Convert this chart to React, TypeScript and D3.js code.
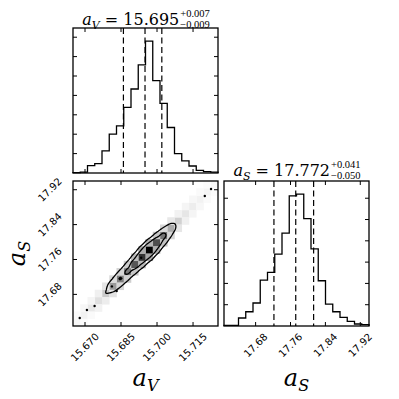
import React, { useEffect, useRef } from "react";
import * as d3 from "d3";

// parameter ranges and ticks
const xRange = [15.665, 15.7254];
const yRange = [17.6075, 17.94];
const xTicks = [15.67, 15.685, 15.7, 15.715];
const yTicks = [17.68, 17.76, 17.84, 17.92];
const xTickLabels = ["15.670", "15.685", "15.700", "15.715"];
const yTickLabels = ["17.68", "17.76", "17.84", "17.92"];
const countTicks = [200, 400, 600, 800, 1000, 1200, 1400];

// marginal histograms (20 bins each)
const xCounts = [3, 10, 76, 97, 228, 400, 486, 676, 866, 1114, 1359, 952, 718, 469, 200, 124, 72, 28, 14, 10];
const yCounts = [6, 6, 75, 134, 216, 431, 503, 675, 872, 1222, 1238, 1009, 725, 425, 206, 134, 81, 44, 19, 13];

// 16/50/84 quantiles
const xQuant = [15.686, 15.695, 15.702];
const yQuant = [17.722, 17.772, 17.813];

// 2d histogram: diagonal cells (i,i), upper (i,i+1), lower (i+1,i)
const diagCells = [3, 5, 9, 12, 21, 40, 50, 52, 66, 80, 100, 70, 55, 33, 18, 10, 7, 5, 4, 3];
const upperCells = [2, 3, 4, 6, 10, 14, 17, 20, 26, 32, 30, 22, 15, 9, 5, 4, 3, 2, 1];
const lowerCells = [1, 2, 5, 7, 11, 16, 19, 22, 28, 34, 32, 24, 16, 10, 6, 4, 3, 2, 1];

// samples outside the contours
const samples = [
  [15.7199, 17.9056], [15.7225, 17.9217], [15.674, 17.6534], [15.6708, 17.6442],
  [15.6678, 17.6258], [15.6832, 17.6878], [15.6812, 17.6983], [15.6845, 17.7168],
  [15.6934, 17.7641],
];

// contour levels as fraction of the smoothed peak
const contourLevels = [0.23, 0.5];

const titles = [
  { name: "V", value: "15.695", plus: "+0.007", minus: "\u22120.009" },
  { name: "S", value: "17.772", plus: "+0.041", minus: "\u22120.050" },
];

const P = 145;
const X0 = [73, 224];
const Y0 = [28, 181];
const NB = 20;
const TICK = 4;

function frame(g, xS, yS, xt, yt) {
  g.append("rect").attr("width", P).attr("height", P)
    .attr("fill", "none").attr("stroke", "#000").attr("stroke-width", 1.3);
  xt.forEach(t => {
    const x = xS(t);
    if (x < 0 || x > P) return;
    g.append("line").attr("x1", x).attr("x2", x).attr("y1", P).attr("y2", P - TICK).attr("stroke", "#000");
    g.append("line").attr("x1", x).attr("x2", x).attr("y1", 0).attr("y2", TICK).attr("stroke", "#000");
  });
  yt.forEach(t => {
    const y = yS(t);
    if (y < 0 || y > P) return;
    g.append("line").attr("x1", 0).attr("x2", TICK).attr("y1", y).attr("y2", y).attr("stroke", "#000");
    g.append("line").attr("x1", P).attr("x2", P - TICK).attr("y1", y).attr("y2", y).attr("stroke", "#000");
  });
}

// tick label turned 45 degrees, its box centred on the tick
function rotLabel(g, x, y, label, side) {
  const tx = g.append("text").text(label)
    .attr("font-family", "DejaVu Sans").attr("font-size", 10)
    .attr("text-anchor", "middle").attr("dy", "0.35em");
  const w = tx.node().getComputedTextLength() || 30;
  const half = (w + 11) * 0.3536;
  const cx = side === "bottom" ? x : x - half;
  const cy = side === "bottom" ? y + half : y;
  tx.attr("x", cx).attr("y", cy).attr("transform", `rotate(-45 ${cx} ${cy})`);
}

function histPanel(g, xS, counts, quant) {
  const yS = d3.scaleLinear().domain([0, 1.1 * d3.max(counts)]).range([P, 0]);
  const edges = d3.range(NB + 1).map(k => xS.domain()[0] + k * (xS.domain()[1] - xS.domain()[0]) / NB);
  const path = d3.path();
  path.moveTo(xS(edges[0]), yS(0));
  counts.forEach((c, i) => {
    path.lineTo(xS(edges[i]), yS(c));
    path.lineTo(xS(edges[i + 1]), yS(c));
  });
  path.lineTo(xS(edges[NB]), yS(0));
  g.append("path").attr("d", path.toString()).attr("fill", "none")
    .attr("stroke", "#000").attr("stroke-width", 1.3);
  quant.forEach(q => {
    g.append("line").attr("x1", xS(q)).attr("x2", xS(q)).attr("y1", 0).attr("y2", P)
      .attr("stroke", "#000").attr("stroke-width", 1.2).attr("stroke-dasharray", "6,3.5");
  });
  return yS;
}

function title(svg, cx, base, t) {
  const main = svg.append("text").attr("font-family", "DejaVu Serif").attr("font-size", 16).attr("y", base);
  main.append("tspan").text("a").attr("font-style", "italic");
  main.append("tspan").text(t.name).attr("font-style", "italic").attr("font-size", 11).attr("dy", 4);
  main.append("tspan").text(" = " + t.value).attr("dy", -4);
  const w1 = main.node().getComputedTextLength();
  const sup = svg.append("text").text(t.plus).attr("font-family", "Liberation Serif").attr("font-size", 10.5);
  const sub = svg.append("text").text(t.minus).attr("font-family", "Liberation Serif").attr("font-size", 10.5);
  const w2 = Math.max(sup.node().getComputedTextLength(), sub.node().getComputedTextLength());
  const x0 = cx - (w1 + w2) / 2;
  main.attr("x", x0);
  sup.attr("x", x0 + w1 + 1).attr("y", base - 8);
  sub.attr("x", x0 + w1 + 1).attr("y", base + 3);
}

function axisName(svg, x, y, sub, rotate) {
  const t = svg.append("text").attr("font-family", "DejaVu Serif").attr("font-style", "italic")
    .attr("font-size", 24).attr("text-anchor", "middle")
    .attr("transform", `translate(${x},${y})` + (rotate ? " rotate(-90)" : ""));
  t.append("tspan").text("a");
  t.append("tspan").text(sub).attr("font-size", 16).attr("dy", 5);
}

export default function App() {
  const ref = useRef(null);

  useEffect(() => {
    const svg = d3.select(ref.current);
    svg.selectAll("*").remove();

    const xS = d3.scaleLinear().domain(xRange).range([0, P]);
    const yS = d3.scaleLinear().domain(yRange).range([P, 0]);
    const sxS = d3.scaleLinear().domain(yRange).range([0, P]);

    // top histogram
    const g1 = svg.append("g").attr("transform", `translate(${X0[0]},${Y0[0]})`);
    const c1 = histPanel(g1, xS, xCounts, xQuant);
    frame(g1, xS, c1, xTicks, countTicks);

    // right histogram
    const g3 = svg.append("g").attr("transform", `translate(${X0[1]},${Y0[1]})`);
    const c3 = histPanel(g3, sxS, yCounts, yQuant);
    frame(g3, sxS, c3, yTicks, countTicks);
    yTicks.forEach((t, i) => rotLabel(g3, sxS(t), P + 5, yTickLabels[i], "bottom"));

    // 2d panel
    const g2 = svg.append("g").attr("transform", `translate(${X0[0]},${Y0[1]})`);
    const cells = [];
    diagCells.forEach((v, i) => cells.push([i, i, v]));
    upperCells.forEach((v, i) => cells.push([i, i + 1, v]));
    lowerCells.forEach((v, i) => cells.push([i + 1, i, v]));
    const vmax = d3.max(cells, c => c[2]);
    const xe = d3.range(NB + 1).map(k => xRange[0] + k * (xRange[1] - xRange[0]) / NB);
    const ye = d3.range(NB + 1).map(k => yRange[0] + k * (yRange[1] - yRange[0]) / NB);
    const gray = d3.scaleLinear().domain([0, vmax]).range([1, 0]);
    g2.selectAll("rect.cell").data(cells).join("rect").attr("class", "cell")
      .attr("x", d => xS(xe[d[0]]))
      .attr("y", d => yS(ye[d[1] + 1]))
      .attr("width", d => xS(xe[d[0] + 1]) - xS(xe[d[0]]) + 0.3)
      .attr("height", d => yS(ye[d[1]]) - yS(ye[d[1] + 1]) + 0.3)
      .attr("fill", d => d3.rgb(255 * gray(d[2]), 255 * gray(d[2]), 255 * gray(d[2])).toString());

    g2.selectAll("circle").data(samples).join("circle")
      .attr("cx", d => xS(d[0])).attr("cy", d => yS(d[1])).attr("r", 1.2).attr("fill", "#000");

    // smoothed density for contours
    const N = 120, sig = 0.55;
    const field = new Float64Array(N * N);
    for (let gy = 0; gy < N; gy++) {
      const cy = NB - (gy + 0.5) / N * NB;
      for (let gx = 0; gx < N; gx++) {
        const cx = (gx + 0.5) / N * NB;
        let s = 0;
        for (const c of cells) {
          const dx = cx - (c[0] + 0.5), dy = cy - (c[1] + 0.5);
          s += c[2] * Math.exp(-(dx * dx + dy * dy) / (2 * sig * sig));
        }
        field[gy * N + gx] = s;
      }
    }
    const fmax = d3.max(field);
    const contours = d3.contours().size([N, N]).smooth(true)
      .thresholds(contourLevels.map(f => f * fmax))(field);
    const proj = d3.geoPath(d3.geoTransform({
      point(x, y) { this.stream.point(x * P / N, y * P / N); },
    }));
    g2.selectAll("path.ct").data(contours).join("path").attr("class", "ct")
      .attr("d", proj).attr("fill", "none").attr("stroke", "#000").attr("stroke-width", 1.3);

    frame(g2, xS, yS, xTicks, yTicks);
    xTicks.forEach((t, i) => rotLabel(g2, xS(t), P + 5, xTickLabels[i], "bottom"));
    yTicks.forEach((t, i) => rotLabel(g2, -9, yS(t), yTickLabels[i], "left"));

    title(svg, X0[0] + P / 2, 25, titles[0]);
    title(svg, X0[1] + P / 2, 176, titles[1]);

    axisName(svg, X0[0] + P / 2, 386, "V", false);
    axisName(svg, X0[1] + P / 2, 386, "S", false);
    axisName(svg, 25, Y0[1] + P / 2, "S", true);
  }, []);

  return (
    <svg ref={ref} width={399} height={399}
      style={{ position: "absolute", left: 0, top: 0, background: "#fff" }} />
  );
}
